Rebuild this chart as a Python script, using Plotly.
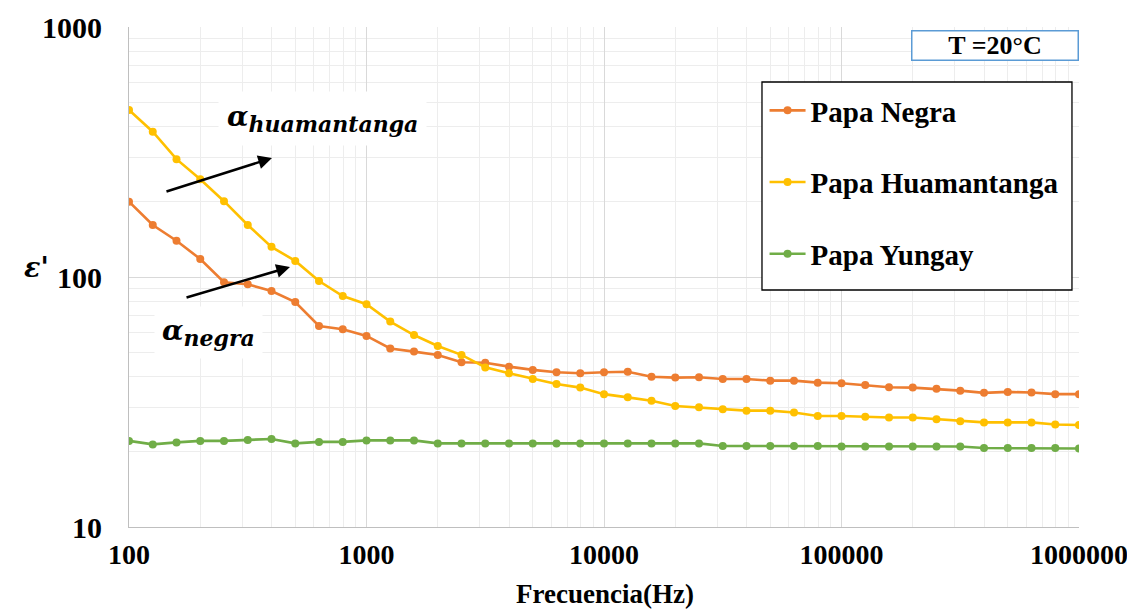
import plotly.graph_objects as go

freq = [round(100 * 10 ** (i / 10), 2) for i in range(41)]

papa_negra = [200, 161.5, 139.7, 118, 95.3, 93.5, 87.9, 79.4, 63.7, 61.8,
              58.1, 51.8, 50.3, 48.8, 45.6, 45.4, 43.8, 42.5, 41.6, 41.2,
              41.6, 41.8, 39.9, 39.6, 39.7, 39.1, 39.1, 38.5, 38.5, 37.8,
              37.6, 37.0, 36.2, 36.1, 35.7, 35.1, 34.4, 34.7, 34.5, 34.0, 34.0]
papa_huamantanga = [466, 381, 296, 246, 201, 161.5, 132, 116, 96.4, 83.9,
                    77.8, 66.3, 58.6, 53.0, 48.8, 43.5, 41.2, 39.1, 37.3, 36.1,
                    34.0, 33.0, 32.0, 30.5, 30.1, 29.6, 29.2, 29.2, 28.7, 27.8,
                    27.8, 27.6, 27.4, 27.4, 27.0, 26.5, 26.2, 26.2, 26.2, 25.7, 25.6]
papa_yungay = [22.1, 21.4, 21.8, 22.1, 22.1, 22.3, 22.5, 21.6, 21.9, 21.9,
               22.2, 22.2, 22.2, 21.6, 21.6, 21.6, 21.6, 21.6, 21.6, 21.6,
               21.6, 21.6, 21.6, 21.6, 21.6, 21.1, 21.1, 21.1, 21.1, 21.1,
               21.0, 21.0, 21.0, 21.0, 21.0, 21.0, 20.7, 20.7, 20.7, 20.7, 20.6]

x_ticks = [100, 1000, 10000, 100000, 1000000]
x_ticktext = ["100", "1000", "10000", "100000", "1000000"]
y_ticks = [10, 100, 1000]
y_ticktext = ["10", "100", "1000"]

series = [
    ("Papa Negra", papa_negra, "#ED7D31"),
    ("Papa Huamantanga", papa_huamantanga, "#FFC000"),
    ("Papa Yungay", papa_yungay, "#70AD47"),
]

SERIF = "Liberation Serif"
MATH = "DejaVu Serif"

fig = go.Figure()
for i, (name, vals, color) in enumerate(series):
    fig.add_trace(go.Scatter(
        x=freq, y=vals, name=name, mode="lines+markers",
        line=dict(color=color, width=2.6),
        marker=dict(color=color, size=8),
        legendgroup=f"g{i}",
    ))

# page body has an 8px margin, so the figure is 8px smaller than the window
fig.update_layout(
    width=1127, height=602,
    margin=dict(l=121, r=56, t=19, b=83, autoexpand=False),
    plot_bgcolor="white", paper_bgcolor="white",
    font=dict(family=SERIF, color="black"),
    showlegend=True,
    legend=dict(
        x=0.669, y=0.884, xanchor="left", yanchor="top",
        borderwidth=0, bgcolor="rgba(0,0,0,0)",
        font=dict(family=SERIF, size=29, color="black", weight="bold"),
        tracegroupgap=31, itemwidth=36,
    ),
)

grid_major = "#D9D9D9"
grid_minor = "#EDEDED"

fig.update_xaxes(
    type="log", range=[2, 6], automargin=False,
    tickvals=x_ticks, ticktext=x_ticktext,
    tickfont=dict(family=SERIF, size=28, weight="bold"),
    showgrid=True, gridcolor=grid_major, gridwidth=1,
    minor=dict(dtick="D1", showgrid=True, gridcolor=grid_minor, gridwidth=1),
    showline=True, linecolor="#BFBFBF", linewidth=1,
    ticks="outside", ticklen=2, tickcolor="rgba(0,0,0,0)",
    zeroline=False,
)
fig.update_yaxes(
    type="log", range=[1, 3], automargin=False,
    tickvals=y_ticks, ticktext=y_ticktext,
    tickfont=dict(family=SERIF, size=30, weight="bold"),
    showgrid=True, gridcolor=grid_major, gridwidth=1,
    minor=dict(dtick="D1", showgrid=True, gridcolor=grid_minor, gridwidth=1),
    showline=True, linecolor="#BFBFBF", linewidth=1,
    ticks="outside", ticklen=20, tickcolor="rgba(0,0,0,0)",
    zeroline=False,
)

# legend frame
fig.add_shape(type="rect", xref="paper", yref="paper",
              x0=0.6663, x1=0.9926, y0=0.474, y1=0.89,
              line=dict(color="black", width=1.3), fillcolor="white", layer="above")

# axis titles
fig.add_annotation(
    xref="paper", yref="paper", x=0.501, y=-0.134, xanchor="center", yanchor="middle",
    text="<b>Frecuencia(Hz)</b>", showarrow=False,
    font=dict(family=SERIF, size=27, color="black"),
)
fig.add_annotation(
    xref="paper", yref="paper", x=-0.097, y=0.52, xanchor="center", yanchor="middle",
    text="<b><i>ε'</i></b>", showarrow=False,
    font=dict(family=MATH, size=27, color="black"),
)

# alpha labels
fig.add_annotation(
    xref="paper", yref="paper", x=0.204, y=0.818, xanchor="center", yanchor="middle",
    text="<b><i>α</i></b><sub><span style='font-size:22px'><b><i>huamantanga</i></b></span></sub>",
    showarrow=False, bgcolor="white",
    font=dict(family=MATH, size=28, color="black"),
    borderpad=8,
)
fig.add_annotation(
    xref="paper", yref="paper", x=0.084, y=0.39, xanchor="center", yanchor="middle",
    text="<b><i>α</i></b><sub><span style='font-size:22px'><b><i>negra</i></b></span></sub>",
    showarrow=False, bgcolor="white",
    font=dict(family=MATH, size=28, color="black"),
    borderpad=7,
)
# arrows
fig.add_annotation(
    xref="paper", yref="paper", x=0.1505, y=0.738, text="",
    showarrow=True, ax=-107, ay=34, arrowhead=2, arrowsize=1.1,
    arrowwidth=2.5, arrowcolor="black",
)
fig.add_annotation(
    xref="paper", yref="paper", x=0.1695, y=0.52, text="",
    showarrow=True, ax=-105, ay=31, arrowhead=2, arrowsize=1.1,
    arrowwidth=2.5, arrowcolor="black",
)
# temperature box
fig.add_annotation(
    xref="paper", yref="paper", x=0.912, y=0.964, xanchor="center", yanchor="middle",
    text="<b>T =20°C</b>", showarrow=False,
    font=dict(family=SERIF, size=26, color="black"),
    bgcolor="white", bordercolor="#5B9BD5", borderwidth=1.5,
    width=163, height=26, borderpad=1,
)

fig.write_html("out.html")
